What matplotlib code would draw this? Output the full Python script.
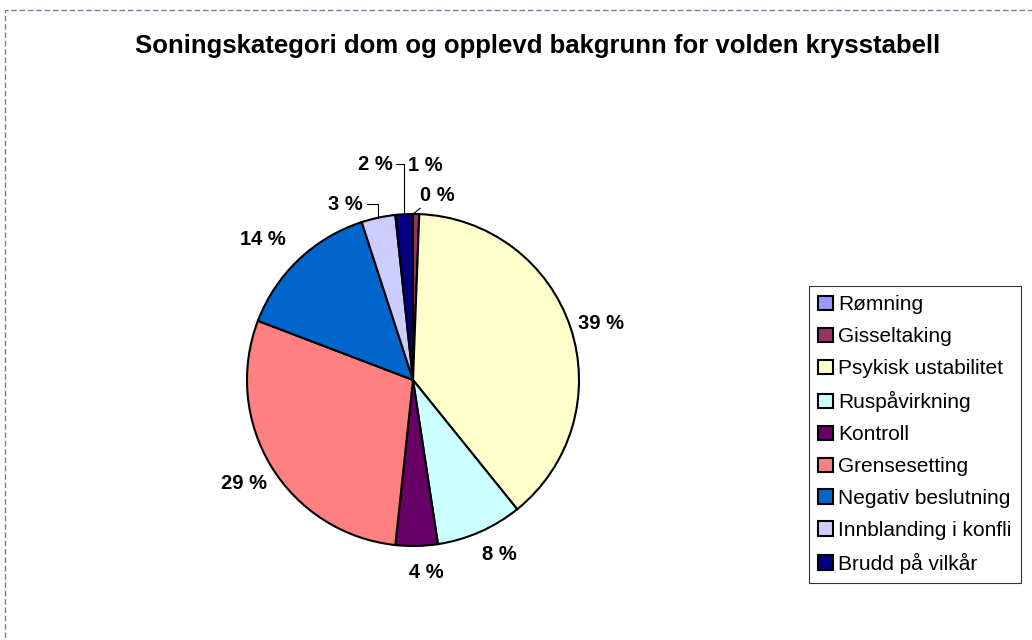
import numpy as np
import matplotlib.pyplot as plt
from matplotlib.patches import Rectangle

plt.rcParams['font.family'] = ['Liberation Sans', 'DejaVu Sans']

# data (share of cases, %)
categories = ["Rømning", "Gisseltaking", "Psykisk ustabilitet", "Ruspåvirkning",
              "Kontroll", "Grensesetting", "Negativ beslutning",
              "Innblanding i konfli", "Brudd på vilkår"]
shares = [0.0, 0.6, 38.6, 8.4, 4.1, 29.1, 14.2, 3.3, 1.7]
colors = ["#9999FF", "#993366", "#FFFFCC", "#CCFFFF", "#660066",
          "#FF8080", "#0066CC", "#CCCCFF", "#000080"]

# label nudges (pie radius units) and whether a leader line is drawn
nudges = [(0.145, -0.056), (0.05, 0.125), (0.02, -0.026), (0.046, 0.017),
          (0.057, 0.013), (-0.02, -0.01), (-0.10, 0.0), (-0.165, -0.084),
          (-0.167, 0.132)]
leaders = [True, False, False, False, False, False, False, True, True]

fig = plt.figure(figsize=(10.32, 6.4), dpi=100)

# dashed chart border (only left and top are inside the picture)
fig.patches.append(Rectangle((5 / 1032, -0.5), 2.0, 0.984 + 0.5,
                             transform=fig.transFigure, fill=False,
                             edgecolor="#7878b0", lw=1.0, ls=(0, (4, 2))))

fig.text(0.521, 0.928, "Soningskategori dom og opplevd bakgrunn for volden krysstabell",
         ha="center", va="center", fontsize=18.5, fontweight="bold")

ax = fig.add_axes([213 / 1032, 60 / 640, 400 / 1032, 400 / 640])
L = 200 / 166
wedges, _ = ax.pie(shares, colors=colors, startangle=90, counterclock=False,
                   radius=1.0, wedgeprops=dict(edgecolor="black", linewidth=1.5))
ax.set_xlim(-L, L)
ax.set_ylim(-L, L)
ax.set_aspect("equal")
ax.axis("off")

for w, s, (nx, ny), lead in zip(wedges, shares, nudges, leaders):
    ang = np.deg2rad((w.theta1 + w.theta2) / 2)
    px, py = np.cos(ang), np.sin(ang)
    tx, ty = 1.17 * px + nx, 1.17 * py + ny
    txt = "%d %%" % int(np.floor(s + 0.5))
    if lead:
        if tx < 0:
            cs = "angle,angleA=0,angleB=90,rad=0"
        else:
            cs = "arc3"
        ax.annotate(txt, xy=(px, py), xytext=(tx, ty), ha="center", va="center",
                    fontsize=14.5, fontweight="bold",
                    arrowprops=dict(arrowstyle="-", color="black", lw=0.8,
                                    shrinkA=1, shrinkB=0, connectionstyle=cs))
    else:
        ax.text(tx, ty, txt, ha="center", va="center", fontsize=14.5,
                fontweight="bold")

leg = ax.legend(wedges, categories, loc="upper left",
                bbox_to_anchor=(809 / 1032, 1 - 286 / 640),
                bbox_transform=fig.transFigure, borderaxespad=0,
                fontsize=15, frameon=True, fancybox=False,
                handlelength=0.68, handleheight=0.68, handletextpad=0.25,
                labelspacing=0.62, borderpad=0.45)
leg.get_frame().set_edgecolor("black")
leg.get_frame().set_linewidth(0.8)

fig.savefig("out.png", dpi=100)
